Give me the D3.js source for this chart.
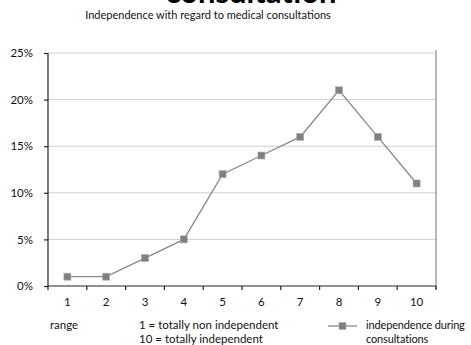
<!DOCTYPE html>
<html>
<head>
<meta charset="utf-8">
<script src="https://cdn.jsdelivr.net/npm/d3@7"></script>
<style>
  html, body { margin: 0; padding: 0; background: #fff; }
  svg { display: block; font-family: Lato, "Open Sans", sans-serif; }
</style>
</head>
<body>
<svg id="chart" width="471" height="345"></svg>
<script>
// Share of respondents per independence rating (1..10)
const categories = ["1", "2", "3", "4", "5", "6", "7", "8", "9", "10"];
const values = [0.01, 0.01, 0.03, 0.05, 0.12, 0.14, 0.16, 0.21, 0.16, 0.11];
const yTicks = [0, 0.05, 0.10, 0.15, 0.20, 0.25];
const seriesName = ["independence during", "consultations"];
const scaleNotes = ["1 = totally non independent", "10 = totally independent"];

const svg = d3.select("#chart");
const plotLeft = 48, plotRight = 436, plotTop = 53, plotBottom = 286;
const ink = "#111";

const x = d3.scaleBand().domain(categories).range([plotLeft, plotRight]);
const y = d3.scaleLinear().domain([0, 0.25]).range([plotBottom, plotTop]);

// Heading (partly above the visible area) and subtitle
svg.append("text")
  .attr("x", 251).attr("y", 3)
  .attr("text-anchor", "middle")
  .attr("font-size", 31).attr("font-weight", "bold")
  .attr("fill", "#000")
  .text("consultation");

svg.append("text")
  .attr("x", 208).attr("y", 19)
  .attr("text-anchor", "middle")
  .attr("font-size", 11)
  .attr("fill", ink)
  .text("Independence with regard to medical consultations");

// Horizontal gridlines
svg.append("g").selectAll("line")
  .data(yTicks.filter(d => d > 0))
  .join("line")
  .attr("x1", plotLeft).attr("x2", plotRight)
  .attr("y1", d => y(d)).attr("y2", d => y(d))
  .attr("stroke", "#cfcfcf").attr("stroke-width", 1);

// Right frame line
svg.append("line")
  .attr("x1", plotRight).attr("x2", plotRight)
  .attr("y1", plotTop - 3).attr("y2", plotBottom + 3)
  .attr("stroke", "#888").attr("stroke-width", 1.2);

// Y axis
const yAxis = d3.axisLeft(y)
  .tickValues(yTicks)
  .tickFormat(d => Math.round(d * 100) + "%")
  .tickSize(4).tickPadding(11);
const gy = svg.append("g").attr("transform", `translate(${plotLeft},0)`).call(yAxis);
gy.select(".domain").attr("stroke", "#222").attr("stroke-width", 1.2)
  .attr("d", `M0,${plotTop}V${plotBottom}`);
gy.selectAll(".tick line").attr("stroke", "#222").attr("stroke-width", 1.2);
gy.selectAll(".tick text").attr("font-size", 11.5).attr("fill", ink)
  .attr("font-family", "Lato, sans-serif");

// X axis with ticks between categories
const xAxis = d3.axisBottom(x).tickSize(0).tickPadding(12);
const gx = svg.append("g").attr("transform", `translate(0,${plotBottom})`).call(xAxis);
gx.select(".domain").attr("stroke", "#222").attr("stroke-width", 1.2)
  .attr("d", `M${plotLeft},0H${plotRight}`);
gx.selectAll(".tick text").attr("font-size", 11.5).attr("fill", ink)
  .attr("font-family", "Lato, sans-serif");
const bounds = categories.map(c => x(c)).concat([plotRight]);
gx.append("g").selectAll("line")
  .data(bounds)
  .join("line")
  .attr("x1", d => d).attr("x2", d => d)
  .attr("y1", 0).attr("y2", 4)
  .attr("stroke", "#222").attr("stroke-width", 1.2);

// Data line
const cx = d => x(d) + x.bandwidth() / 2;
const line = d3.line().x((d, i) => cx(categories[i])).y(d => y(d));
svg.append("path")
  .datum(values)
  .attr("d", line)
  .attr("fill", "none")
  .attr("stroke", "#888").attr("stroke-width", 1.3);

const m = 7;
svg.append("g").selectAll("rect")
  .data(values)
  .join("rect")
  .attr("x", (d, i) => cx(categories[i]) - m / 2)
  .attr("y", d => y(d) - m / 2)
  .attr("width", m).attr("height", m)
  .attr("fill", "#808080")
  .attr("stroke", "#aaa").attr("stroke-width", 0.6);

// Footer notes
const fs = 11.5;
svg.append("text").attr("x", 50).attr("y", 329).attr("font-size", fs).attr("fill", ink).text("range");
svg.append("g").selectAll("text")
  .data(scaleNotes)
  .join("text")
  .attr("x", 139).attr("y", (d, i) => 329 + i * 14)
  .attr("font-size", fs).attr("fill", ink)
  .text(d => d);

// Legend
const ly = 326;
svg.append("line").attr("x1", 328).attr("x2", 357).attr("y1", ly).attr("y2", ly)
  .attr("stroke", "#888").attr("stroke-width", 1.3);
svg.append("rect").attr("x", 342.5 - m / 2).attr("y", ly - m / 2)
  .attr("width", m).attr("height", m)
  .attr("fill", "#808080").attr("stroke", "#aaa").attr("stroke-width", 0.6);
svg.append("g").selectAll("text")
  .data(seriesName)
  .join("text")
  .attr("x", 366).attr("y", (d, i) => 329 + i * 14)
  .attr("font-size", 11)
  .attr("letter-spacing", -0.15)
  .attr("fill", ink)
  .text(d => d);
</script>
</body>
</html>
